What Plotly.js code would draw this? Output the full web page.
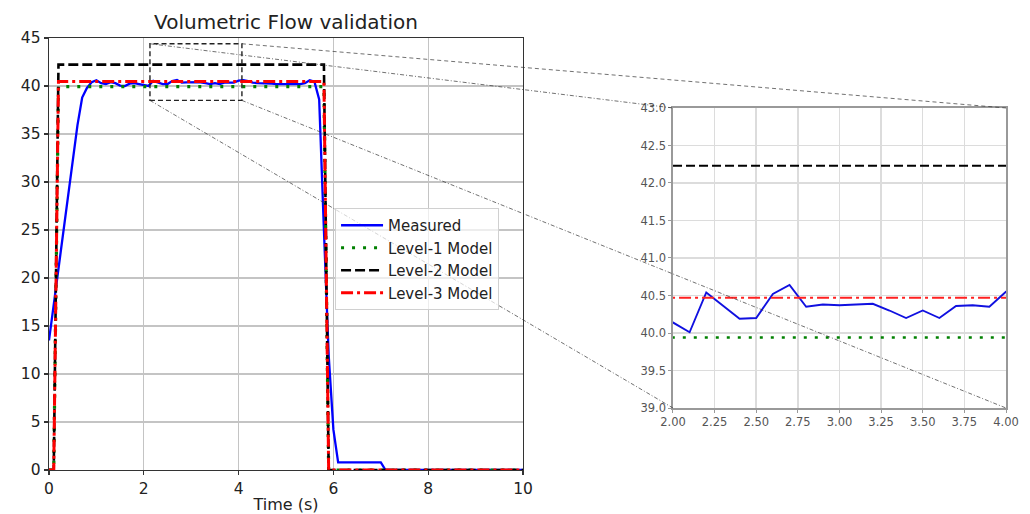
<!DOCTYPE html>
<html>
<head>
<meta charset="utf-8">
<script src="https://cdn.plot.ly/plotly-3.0.1.min.js"></script>
<style>
  html, body { margin: 0; padding: 0; background: #fff; }
  #chart { width: 1030px; height: 514px; }
</style>
</head>
<body>
<div id="chart"></div>
<script>
// ---- data ----
const measuredTime = [0.0, 0.1, 0.2, 0.3, 0.4, 0.5, 0.6, 0.7, 0.8, 0.9,
  1.0, 1.1, 1.2, 1.3, 1.4, 1.5, 1.6, 1.7, 1.8, 1.9,
  2.0, 2.1, 2.2, 2.3, 2.4, 2.5, 2.6, 2.7, 2.8, 2.9,
  3.0, 3.1, 3.2, 3.3, 3.4, 3.5, 3.6, 3.7, 3.8, 3.9,
  4.0, 4.1, 4.2, 4.3, 4.4, 4.5, 4.6, 4.7, 4.8, 4.9,
  5.0, 5.1, 5.2, 5.3, 5.4, 5.5, 5.6, 5.7, 5.8, 5.9,
  6.0, 6.1, 7.0, 7.1, 10.0];
const measuredFlow = [13.5, 17.2, 20.9, 24.5, 28.2, 32.0, 35.9, 38.8, 39.8, 40.4,
  40.6, 40.3, 40.2, 40.4, 40.3, 40.05, 40.0, 40.25, 40.3, 40.2,
  40.14, 40.01, 40.54, 40.36, 40.19, 40.2, 40.52, 40.64, 40.35, 40.38,
  40.37, 40.38, 40.39, 40.3, 40.2, 40.3, 40.2, 40.36, 40.37, 40.35,
  40.55, 40.6, 40.5, 40.35, 40.3, 40.3, 40.3, 40.25, 40.2, 40.2,
  40.2, 40.2, 40.2, 40.2, 40.3, 40.6, 40.45, 38.6, 25.0, 12.0,
  4.2, 0.8, 0.8, 0.0, 0.0];

const modelTime = [0, 0.1, 0.2, 5.8, 5.9, 10];
const level1Flow = [0, 0, 39.94, 39.94, 0, 0];
const level2Flow = [0, 0, 42.23, 42.23, 0, 0];
const level3Flow = [0, 0, 40.47, 40.47, 0, 0];

const seriesNames = ['Measured', 'Level-1 Model', 'Level-2 Model', 'Level-3 Model'];

// zoom box drawn on the main axes (as in the picture)
const zoomBoxX = [2.13, 4.07];
const zoomBoxY = [38.5, 44.4];

// axes
const mainXRange = [0, 10], mainYRange = [0, 45];
const insetXRange = [2, 4], insetYRange = [39, 43];
const mainXDomain = [0, 0.4953], mainYDomain = [0, 1];
const insetXDomain = [0.652, 1], insetYDomain = [0.1435, 0.838];

const FONT = 'DejaVu Sans, Liberation Sans, sans-serif';

const styles = [
  {color: '#0000ff', width: 2.3, dash: 'solid'},
  {color: '#008000', width: 3.2, dash: '3px,8px'},
  {color: '#000000', width: 2.6, dash: '10px,4px'},
  {color: '#ff0000', width: 3.0, dash: '12px,4px,3px,4px'}
];
const insetStyles = [
  {color: '#1010e0', width: 1.9, dash: 'solid'},
  {color: '#008000', width: 2.6, dash: '3px,8px'},
  {color: '#000000', width: 2.0, dash: '9px,4px'},
  {color: '#ff2020', width: 2.0, dash: '12px,4px,3px,4px'}
];
const xs = [measuredTime, modelTime, modelTime, modelTime];
const ys = [measuredFlow, level1Flow, level2Flow, level3Flow];

const traces = [];
for (let i = 0; i < 4; i++) {
  traces.push({x: xs[i], y: ys[i], type: 'scatter', mode: 'lines', name: seriesNames[i],
    line: styles[i], xaxis: 'x', yaxis: 'y', showlegend: true, hoverinfo: 'skip'});
}
for (let i = 0; i < 4; i++) {
  traces.push({x: xs[i], y: ys[i], type: 'scatter', mode: 'lines', name: seriesNames[i],
    line: insetStyles[i], xaxis: 'x2', yaxis: 'y2', showlegend: false, hoverinfo: 'skip'});
}

function toPaperX(v) { return mainXDomain[0] + (v - mainXRange[0]) / (mainXRange[1] - mainXRange[0]) * (mainXDomain[1] - mainXDomain[0]); }
function toPaperY(v) { return mainYDomain[0] + (v - mainYRange[0]) / (mainYRange[1] - mainYRange[0]) * (mainYDomain[1] - mainYDomain[0]); }

const connColor = '#333333';
const shapes = [
  {type: 'rect', xref: 'x', yref: 'y', x0: zoomBoxX[0], x1: zoomBoxX[1], y0: zoomBoxY[0], y1: zoomBoxY[1],
   line: {color: '#222', width: 1.4, dash: '5px,3px'}, layer: 'above'},
  {type: 'line', xref: 'paper', yref: 'paper', x0: toPaperX(zoomBoxX[0]), y0: toPaperY(zoomBoxY[1]), x1: insetXDomain[0], y1: insetYDomain[1],
   line: {color: connColor, width: 0.7, dash: '4px,2px,1px,2px'}, layer: 'above'},
  {type: 'line', xref: 'paper', yref: 'paper', x0: toPaperX(zoomBoxX[1]), y0: toPaperY(zoomBoxY[1]), x1: insetXDomain[1], y1: insetYDomain[1],
   line: {color: connColor, width: 0.7, dash: '4px,3px'}, layer: 'above'},
  {type: 'line', xref: 'paper', yref: 'paper', x0: toPaperX(zoomBoxX[0]), y0: toPaperY(zoomBoxY[0]), x1: insetXDomain[0], y1: insetYDomain[0],
   line: {color: connColor, width: 0.7, dash: '4px,2px,1px,2px'}, layer: 'above'},
  {type: 'line', xref: 'paper', yref: 'paper', x0: toPaperX(zoomBoxX[1]), y0: toPaperY(zoomBoxY[0]), x1: insetXDomain[1], y1: insetYDomain[0],
   line: {color: connColor, width: 0.7, dash: '4px,2px,1px,2px'}, layer: 'above'}
];

const layout = {
  width: 1030, height: 514,
  margin: {l: 49, r: 24, t: 38, b: 44},
  paper_bgcolor: '#ffffff', plot_bgcolor: '#ffffff',
  font: {family: FONT, color: '#222'},
  title: {text: 'Volumetric Flow validation', font: {family: FONT, size: 20, color: '#222'},
    xref: 'paper', x: (mainXDomain[0] + mainXDomain[1]) / 2, xanchor: 'center',
    yref: 'container', y: 1 - 22 / 514, yanchor: 'middle'},
  showlegend: true,
  legend: {x: 0.2989, y: 0.6065, xanchor: 'left', yanchor: 'top', xref: 'paper', yref: 'paper',
    bgcolor: 'rgba(255,255,255,0.7)', bordercolor: '#d0d0d0', borderwidth: 1,
    font: {family: FONT, size: 15, color: '#222'}, itemwidth: 42},
  xaxis: {domain: mainXDomain, range: mainXRange, dtick: 2, tick0: 0, anchor: 'y',
    showline: true, mirror: true, linecolor: '#333', linewidth: 1.3,
    ticks: 'outside', ticklen: 4, tickcolor: '#333', tickwidth: 1.2,
    showgrid: true, gridcolor: '#c4c4c4', gridwidth: 1.3, zeroline: false,
    tickfont: {family: FONT, size: 15.5, color: '#222'},
    title: {text: 'Time (s)', font: {family: FONT, size: 16, color: '#222'}, standoff: 4}},
  yaxis: {domain: mainYDomain, range: mainYRange, dtick: 5, tick0: 0, anchor: 'x',
    showline: true, mirror: true, linecolor: '#333', linewidth: 1.3,
    ticks: 'outside', ticklen: 4, tickcolor: '#333', tickwidth: 1.2,
    showgrid: true, gridcolor: '#c4c4c4', gridwidth: 1.3, zeroline: false,
    tickfont: {family: FONT, size: 15.5, color: '#222'}},
  xaxis2: {domain: insetXDomain, range: insetXRange, dtick: 0.25, tick0: 2, tickformat: '.2f', anchor: 'y2',
    showline: true, mirror: true, linecolor: '#999', linewidth: 1.6,
    ticks: 'outside', ticklen: 3, tickcolor: '#999',
    showgrid: true, gridcolor: '#dcdcdc', gridwidth: 1.5, zeroline: false,
    tickfont: {family: FONT, size: 11.5, color: '#555'}},
  yaxis2: {domain: insetYDomain, range: insetYRange, dtick: 0.5, tick0: 39, tickformat: '.1f', anchor: 'x2',
    showline: true, mirror: true, linecolor: '#999', linewidth: 1.6,
    ticks: 'outside', ticklen: 3, tickcolor: '#999',
    showgrid: true, gridcolor: '#dcdcdc', gridwidth: 1.5, zeroline: false,
    tickfont: {family: FONT, size: 11.5, color: '#555'}},
  shapes: shapes
};

Plotly.newPlot('chart', traces, layout, {staticPlot: true, displayModeBar: false});
</script>
</body>
</html>
